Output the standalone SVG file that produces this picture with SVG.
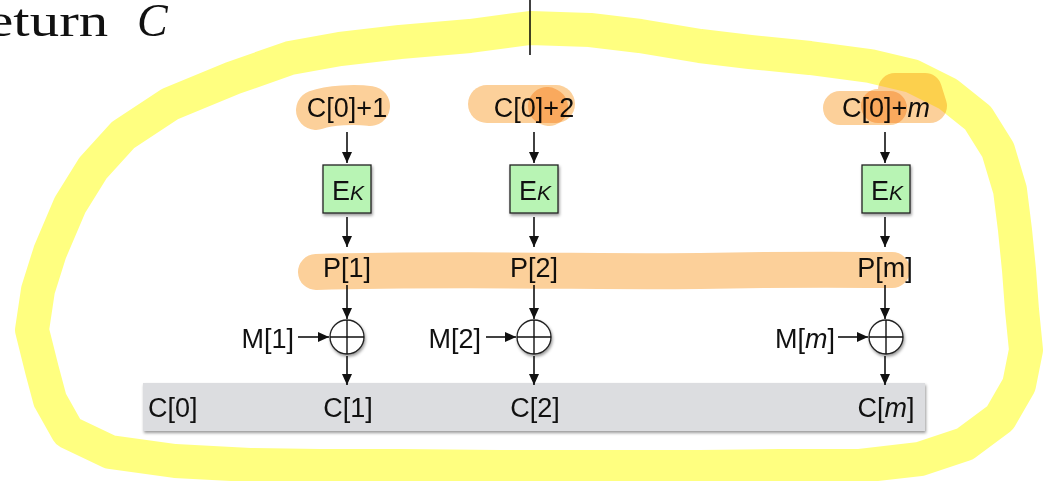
<svg xmlns="http://www.w3.org/2000/svg" width="1044" height="481" viewBox="0 0 1044 481">
  <style>
    .lbl { font-family: "Liberation Sans", Arial, sans-serif; font-size: 27px; fill: #111; }
    .it { font-style: italic; }
    .wire { stroke: #111; stroke-width: 1.6; fill: none; marker-end: url(#head); }
    .box { fill: #b8f4b4; stroke: #222; stroke-width: 1.3; filter: url(#sh); }
    .xor { fill: #fff; stroke: #222; stroke-width: 1.3; filter: url(#sh); }
    .plus { stroke: #111; stroke-width: 1.4; }
    .hl { fill: none; stroke: #fcd09a; stroke-linecap: round; stroke-linejoin: round; mix-blend-mode: multiply; }
    .loop { fill: none; stroke: #ffff80; stroke-width: 34; stroke-linecap: round; stroke-linejoin: round; mix-blend-mode: multiply; }
  </style>
  <defs>
    <marker id="head" markerUnits="userSpaceOnUse" markerWidth="11" markerHeight="10" refX="11" refY="5" orient="auto">
      <path d="M0,0 L11,5 L0,10 z" fill="#111"/>
    </marker>
    <filter id="sh" x="-20%" y="-20%" width="140%" height="150%">
      <feDropShadow dx="1" dy="2" stdDeviation="1.5" flood-color="#000" flood-opacity="0.4"/>
    </filter>
  </defs>

  <rect width="1044" height="481" fill="#fff"/>

  <!-- text from the slide above -->
  <g id="caption">
    <text x="-10" y="36" transform="scale(1.28,1)" font-family="'Liberation Serif', 'Times New Roman', serif" font-size="46" fill="#111">eturn</text>
    <text x="137" y="36" font-family="'Liberation Serif', 'Times New Roman', serif" font-size="46" font-style="italic" fill="#111">C</text>
    <line x1="530" y1="0" x2="530" y2="55" stroke="#111" stroke-width="1.6"/>
  </g>

  <!-- ciphertext output bar -->
  <g id="outbar">
    <rect x="143" y="383" width="782" height="48" fill="#dcdde0" filter="url(#sh)"/>
    <text class="lbl" x="148" y="417">C[0]</text>
    <text class="lbl" x="348" y="417" text-anchor="middle">C[1]</text>
    <text class="lbl" x="535" y="417" text-anchor="middle">C[2]</text>
    <text class="lbl" x="886" y="417" text-anchor="middle">C[<tspan class="it">m</tspan>]</text>
  </g>

  <!-- counter inputs -->
  <g id="ctr1"><text class="lbl" x="347" y="117" text-anchor="middle">C[0]+1</text></g>
  <g id="ctr2"><text class="lbl" x="534" y="117" text-anchor="middle">C[0]+2</text></g>
  <g id="ctrm"><text class="lbl" x="886" y="117" text-anchor="middle">C[0]+<tspan class="it">m</tspan></text></g>

  <!-- block cipher boxes -->
  <g id="enc1">
    <rect class="box" x="323" y="165" width="48" height="48"/>
    <text class="lbl" x="332" y="200" font-size="28">E<tspan class="it" font-size="21">K</tspan></text>
  </g>
  <g id="enc2">
    <rect class="box" x="510" y="165" width="48" height="48"/>
    <text class="lbl" x="519" y="200" font-size="28">E<tspan class="it" font-size="21">K</tspan></text>
  </g>
  <g id="encm">
    <rect class="box" x="862" y="165" width="48" height="48"/>
    <text class="lbl" x="871" y="200" font-size="28">E<tspan class="it" font-size="21">K</tspan></text>
  </g>

  <!-- keystream blocks -->
  <g id="pad1"><text class="lbl" x="347" y="277" text-anchor="middle">P[1]</text></g>
  <g id="pad2"><text class="lbl" x="534" y="277" text-anchor="middle">P[2]</text></g>
  <g id="padm"><text class="lbl" x="885" y="277" text-anchor="middle">P[m]</text></g>

  <!-- message blocks -->
  <g id="msg1"><text class="lbl" x="294" y="348" text-anchor="end">M[1]</text></g>
  <g id="msg2"><text class="lbl" x="481" y="348" text-anchor="end">M[2]</text></g>
  <g id="msgm"><text class="lbl" x="835" y="348" text-anchor="end">M[<tspan class="it">m</tspan>]</text></g>

  <!-- XOR gates -->
  <g id="xor1">
    <circle class="xor" cx="347" cy="337" r="17"/>
    <path class="plus" d="M330,337 H364 M347,320 V354"/>
  </g>
  <g id="xor2">
    <circle class="xor" cx="534" cy="337" r="17"/>
    <path class="plus" d="M517,337 H551 M534,320 V354"/>
  </g>
  <g id="xorm">
    <circle class="xor" cx="886" cy="337" r="17"/>
    <path class="plus" d="M869,337 H903 M886,320 V354"/>
  </g>

  <!-- connectors -->
  <g id="connectors">
    <line class="wire" x1="347" y1="132" x2="347" y2="163"/>
    <line class="wire" x1="347" y1="217" x2="347" y2="247"/>
    <line class="wire" x1="347" y1="285" x2="347" y2="319"/>
    <line class="wire" x1="347" y1="356" x2="347" y2="385"/>
    <line class="wire" x1="298" y1="337" x2="329" y2="337"/>

    <line class="wire" x1="534" y1="132" x2="534" y2="163"/>
    <line class="wire" x1="534" y1="217" x2="534" y2="247"/>
    <line class="wire" x1="534" y1="285" x2="534" y2="319"/>
    <line class="wire" x1="534" y1="356" x2="534" y2="385"/>
    <line class="wire" x1="486" y1="337" x2="516" y2="337"/>

    <line class="wire" x1="885" y1="132" x2="885" y2="163"/>
    <line class="wire" x1="885" y1="217" x2="885" y2="247"/>
    <line class="wire" x1="885" y1="285" x2="885" y2="319"/>
    <line class="wire" x1="885" y1="356" x2="885" y2="385"/>
    <line class="wire" x1="838" y1="337" x2="868" y2="337"/>
  </g>

  <!-- hand-drawn highlighter marks -->
  <g id="marks">
    <path class="loop" d="M233,78 L290,58 L340,49 L400,42 L470,36 L530,28 L590,30 L640,36 L700,46 L750,52 L810,58 L870,66 L912,76 L948,94 L978,118 L998,150 L1010,190 L1015,230 L1019,270 L1022,310 L1026,350 L1019,385 L1000,418 L965,444 L920,459 L860,466 L780,466 L700,467 L600,467 L500,467 L400,466 L320,466 L250,465 L175,461 L110,452 L68,432 L50,400 L42,370 L32,330 L38,290 L50,252 L70,205 L93,168 L123,135 L170,104 Z"/>
    <path class="hl" stroke-width="40" d="M316,110 C330,105 355,104 370,106"/>
    <path class="hl" stroke-width="38" d="M487,104 L556,104"/>
    <path class="hl" stroke-width="38" d="M547,106 L549,107"/>
    <path class="hl" stroke-width="34" d="M840,108 L890,108"/>
    <path class="hl" stroke-width="34" d="M878,106 L930,106 L925,90 L895,90"/>
    <path class="hl" stroke-width="36" d="M316,272 C450,268 600,272 700,271 C800,269 860,270 892,270"/>
  </g>
</svg>
